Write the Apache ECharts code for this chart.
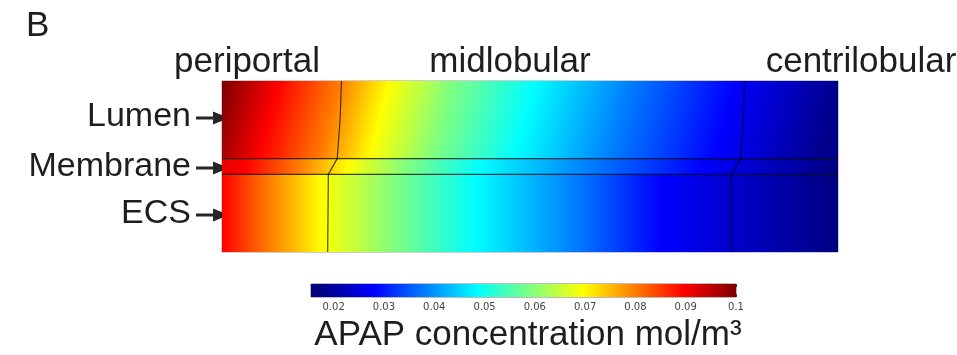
<!DOCTYPE html>
<html>
<head>
<meta charset="utf-8">
<title>APAP concentration</title>
<script src="https://cdn.jsdelivr.net/npm/echarts@6/dist/echarts.min.js"></script>
<style>
  html, body { margin: 0; padding: 0; background: #fff; }
  #chart { width: 957px; height: 355px; }
</style>
</head>
<body>
<div id="chart"></div>
<script>
// layer edges (fraction of height, 0 = bottom of ECS, 1 = top of lumen)
const ecsY = [0, 0.454];
const membraneY = [0.454, 0.546];
const lumenY = [0.546, 1];

// concentration read along rows: x position (fraction of length) and value (mol/m3)
// lumen is read on two rows, the shift between them gives the tilt of the isolines
const lumenTopRow = 0.953;
const lumenTopPos = [0, 0.089, 0.19, 0.268, 0.37, 0.504, 0.657, 0.829, 1];
const lumenTopVal = [0.1, 0.0896, 0.0797, 0.0697, 0.0592, 0.0486, 0.0383, 0.0279, 0.0185];
const lumenLowRow = 0.596;
const lumenLowPos = [0, 0.073, 0.16, 0.236, 0.332, 0.478, 0.638, 0.816, 1];
const lumenLowVal = [0.0948, 0.0896, 0.0797, 0.0697, 0.0592, 0.0486, 0.0383, 0.0279, 0.0183];
const membranePos = [0, 0.038, 0.128, 0.204, 0.30, 0.42, 0.593, 0.778, 1];
const membraneVal = [0.0917, 0.0896, 0.0797, 0.0697, 0.0592, 0.0486, 0.0383, 0.0279, 0.0175];
const ecsPos = [0, 0.078, 0.162, 0.28, 0.41, 0.57, 0.713, 1];
const ecsVal = [0.0896, 0.0797, 0.0697, 0.0592, 0.0486, 0.0383, 0.0279, 0.016];

// zone boundaries drawn in the geometry
const leftBoundary = [[0.194, 1], [0.1916, 0.772], [0.187, 0.546], [0.1726, 0.454], [0.1716, 0]];
const rightBoundary = [[0.848, 1], [0.8463, 0.772], [0.842, 0.546], [0.827, 0.454], [0.8274, 0]];

// colour bar
const barMin = 0.0155;
const barMax = 0.1;
const barTicks = [0.02, 0.03, 0.04, 0.05, 0.06, 0.07, 0.08, 0.09, 0.1];

const zoneLabels = ['periportal', 'midlobular', 'centrilobular'];
const layerLabels = ['Lumen', 'Membrane', 'ECS'];

// jet-like colour map
const CMAP = [
  [0.0176, [0, 0, 128]],
  [0.0279, [0, 0, 255]],
  [0.0486, [0, 255, 255]],
  [0.0697, [255, 255, 0]],
  [0.0896, [255, 0, 0]],
  [0.1, [128, 0, 0]]
];

function cmapColor(v) {
  if (v <= CMAP[0][0]) return 'rgb(' + CMAP[0][1].join(',') + ')';
  for (let i = 1; i < CMAP.length; i++) {
    if (v <= CMAP[i][0]) {
      const a = CMAP[i - 1], b = CMAP[i];
      const t = (v - a[0]) / (b[0] - a[0]);
      const c = a[1].map((x, k) => Math.round(x + (b[1][k] - x) * t));
      return 'rgb(' + c.join(',') + ')';
    }
  }
  return 'rgb(' + CMAP[CMAP.length - 1][1].join(',') + ')';
}

const FONT = '"Liberation Sans", Arial, Helvetica, sans-serif';
const TXT = '#1e1e1e';

const chart = echarts.init(document.getElementById('chart'), null, { renderer: 'canvas' });

// flat layer: horizontal gradient through the readings
function flatLayer(api, yr, pos, val) {
  const p0 = api.coord([0, yr[1]]);
  const p1 = api.coord([1, yr[0]]);
  const stops = pos.map((x, k) => ({ offset: x, color: cmapColor(val[k]) }));
  return {
    type: 'rect',
    shape: { x: p0[0], y: p0[1], width: p1[0] - p0[0], height: p1[1] - p0[1] },
    style: { fill: new echarts.graphic.LinearGradient(0, 0, 1, 0, stops) }
  };
}

// lumen: gradient tilted so that isolines follow the shift between the two read rows
function lumenLayer(api) {
  const p0 = api.coord([0, lumenY[1]]);
  const p1 = api.coord([1, lumenY[0]]);
  const W = p1[0] - p0[0];
  const yTop = api.coord([0, lumenTopRow])[1];
  const yLow = api.coord([0, lumenLowRow])[1];
  let shift = 0, n = 0;
  for (let i = 1; i < lumenTopPos.length - 1; i++) {
    shift += (lumenTopPos[i] - lumenLowPos[i]) * W;
    n++;
  }
  const dx = shift / n;
  const dy = yLow - yTop;
  const len = Math.sqrt(dx * dx + dy * dy);
  const gx = dy / len, gy = dx / len;
  const params = lumenTopPos.map(x => (p0[0] + x * W) * gx + yTop * gy);
  const pmin = params[0], pmax = params[params.length - 1];
  const ox = p0[0] + lumenTopPos[0] * W, oy = yTop;
  const span = pmax - pmin;
  const stops = params.map((p, k) => ({ offset: (p - pmin) / span, color: cmapColor(lumenTopVal[k]) }));
  const grad = new echarts.graphic.LinearGradient(ox, oy, ox + gx * span, oy + gy * span, stops, true);
  return {
    type: 'rect',
    shape: { x: p0[0], y: p0[1], width: W, height: p1[1] - p0[1] },
    style: { fill: grad }
  };
}

const layers = ['ecs', 'membrane', 'lumen'];

function boundarySeries(data) {
  return {
    type: 'line',
    xAxisIndex: 0,
    yAxisIndex: 0,
    data: data,
    symbol: 'none',
    silent: true,
    z: 5,
    lineStyle: { color: 'rgba(0,0,0,0.75)', width: 1.1 }
  };
}

function arrow(y) {
  return [
    { type: 'line', shape: { x1: 196, y1: y, x2: 216, y2: y }, style: { stroke: '#262626', lineWidth: 3 } },
    { type: 'polygon', shape: { points: [[213, y - 6.5], [229, y], [213, y + 6.5]] }, style: { fill: '#262626' } }
  ];
}

function label(text, x, y, size, align) {
  return { type: 'text', x: x, y: y, style: { text: text, font: size + 'px ' + FONT, fill: TXT, align: align, verticalAlign: 'middle' } };
}

const option = {
  animation: false,
  backgroundColor: '#fff',
  grid: [
    { left: 222, top: 81, width: 616, height: 171, show: true, borderColor: '#9a9a9a', borderWidth: 1 },
    { left: 311, top: 284, width: 425, height: 13, show: true, borderColor: '#777', borderWidth: 1 }
  ],
  xAxis: [
    { gridIndex: 0, type: 'value', min: 0, max: 1, show: false },
    {
      gridIndex: 1, type: 'value', min: barMin, max: barMax, position: 'bottom',
      axisLine: { show: false },
      splitLine: { show: false },
      axisTick: { show: true, inside: true, length: 3, customValues: barTicks, lineStyle: { color: '#333', width: 1 } },
      axisLabel: {
        show: true, customValues: barTicks, margin: 5, fontSize: 10, color: '#444',
        fontFamily: '"DejaVu Sans", sans-serif',
        formatter: function (v) { return String(+v.toFixed(2)); }
      }
    },
    {
      gridIndex: 1, type: 'value', min: barMin, max: barMax, position: 'top',
      axisLine: { show: false },
      splitLine: { show: false },
      axisLabel: { show: false },
      axisTick: { show: true, inside: true, length: 3, customValues: barTicks, lineStyle: { color: '#333', width: 1 } }
    }
  ],
  yAxis: [
    { gridIndex: 0, type: 'value', min: 0, max: 1, show: false },
    { gridIndex: 1, type: 'value', min: 0, max: 1, show: false }
  ],
  series: [
    {
      type: 'custom',
      xAxisIndex: 0,
      yAxisIndex: 0,
      silent: true,
      z: 1,
      data: layers.map((l, i) => [i]),
      renderItem: function (params, api) {
        const name = layers[api.value(0)];
        if (name === 'ecs') return flatLayer(api, ecsY, ecsPos, ecsVal);
        if (name === 'membrane') return flatLayer(api, membraneY, membranePos, membraneVal);
        return lumenLayer(api);
      }
    },
    boundarySeries(leftBoundary),
    boundarySeries(rightBoundary),
    boundarySeries([[0, membraneY[0]], [1, membraneY[0]]]),
    boundarySeries([[0, membraneY[1]], [1, membraneY[1]]]),
    {
      type: 'custom',
      xAxisIndex: 1,
      yAxisIndex: 1,
      silent: true,
      z: 1,
      data: [[barMin, barMax]],
      renderItem: function (params, api) {
        const lo = api.value(0), hi = api.value(1);
        const p0 = api.coord([lo, 1]);
        const p1 = api.coord([hi, 0]);
        const stops = [{ offset: 0, color: cmapColor(lo) }];
        CMAP.forEach(function (s) {
          if (s[0] > lo && s[0] <= hi) stops.push({ offset: (s[0] - lo) / (hi - lo), color: cmapColor(s[0]) });
        });
        return {
          type: 'rect',
          shape: { x: p0[0], y: p0[1], width: p1[0] - p0[0], height: p1[1] - p0[1] },
          style: { fill: new echarts.graphic.LinearGradient(0, 0, 1, 0, stops) }
        };
      }
    }
  ],
  graphic: [
    { type: 'text', left: 26, top: 9, style: { text: 'B', font: '35px ' + FONT, fill: TXT } },
    label(zoneLabels[0], 247, 62, 35, 'center'),
    label(zoneLabels[1], 510, 62, 35, 'center'),
    label(zoneLabels[2], 861, 62, 35, 'center'),
    label(layerLabels[0], 191, 117, 34, 'right'),
    label(layerLabels[1], 191, 167, 34, 'right'),
    label(layerLabels[2], 191, 214, 34, 'right'),
    ...arrow(118),
    ...arrow(168),
    ...arrow(215),
    label('APAP concentration mol/m³', 528, 335, 35, 'center')
  ]
};

chart.setOption(option);
</script>
</body>
</html>
